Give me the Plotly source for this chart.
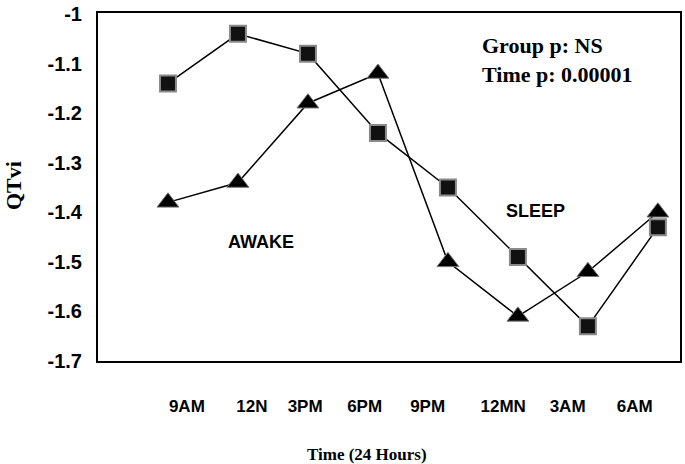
import plotly.graph_objects as go

# Data
times = ["9AM", "12N", "3PM", "6PM", "9PM", "12MN", "3AM", "6AM"]
x_idx = [0, 1, 2, 3, 4, 5, 6, 7]
tick_pos = [0.27, 1.2, 1.96, 2.81, 3.71, 4.79, 5.71, 6.67]
square_vals = [-1.14, -1.04, -1.08, -1.24, -1.35, -1.49, -1.63, -1.43]
triangle_vals = [-1.38, -1.34, -1.18, -1.12, -1.50, -1.61, -1.52, -1.40]
y_ticks = [-1, -1.1, -1.2, -1.3, -1.4, -1.5, -1.6, -1.7]
y_labels = ["-1", "-1.1", "-1.2", "-1.3", "-1.4", "-1.5", "-1.6", "-1.7"]

sans = "Liberation Sans, Arial, sans-serif"
serif = "Liberation Serif, Times New Roman, serif"

fig = go.Figure()
fig.add_trace(
    go.Scatter(
        x=x_idx,
        y=triangle_vals,
        mode="lines+markers",
        line=dict(color="black", width=1.5),
        marker=dict(symbol="triangle-up", size=19, color="black",
                    line=dict(color="#777777", width=1)),
        name="triangle",
    )
)
fig.add_trace(
    go.Scatter(
        x=x_idx,
        y=square_vals,
        mode="lines+markers",
        line=dict(color="black", width=1.5),
        marker=dict(symbol="square", size=16, color="#111111",
                    line=dict(color="#8a8a8a", width=2)),
        name="square",
    )
)

# Frame round the plot area
fig.add_shape(type="rect", xref="paper", yref="paper", x0=0, x1=1, y0=0, y1=1,
              line=dict(color="black", width=2), layer="above")

# Text inside the plot
fig.add_annotation(x=5.57, y=-1.093, xref="x", yref="y", showarrow=False,
                   text="<b>Group p: NS<br>Time p: 0.00001</b>", align="left",
                   font=dict(family=serif, size=22, color="black"))
fig.add_annotation(x=1.33, y=-1.459, xref="x", yref="y", showarrow=False,
                   text="<b>AWAKE</b>", font=dict(family=sans, size=18, color="black"))
fig.add_annotation(x=5.25, y=-1.397, xref="x", yref="y", showarrow=False,
                   text="<b>SLEEP</b>", font=dict(family=sans, size=18, color="black"))

# Axis titles
fig.add_annotation(x=0.4615, y=-0.265, xref="paper", yref="paper", showarrow=False,
                   xanchor="center", yanchor="middle",
                   text="<b>Time (24 Hours)</b>", font=dict(family=serif, size=17, color="black"))
fig.add_annotation(x=-0.142, y=0.503, xref="paper", yref="paper", showarrow=False, textangle=-90,
                   xanchor="center", yanchor="middle",
                   text="<b>QTvi</b>", font=dict(family=serif, size=22, color="black"))

fig.update_layout(
    width=685,
    height=464,
    margin=dict(l=97, r=4, t=12, b=102),
    paper_bgcolor="white",
    plot_bgcolor="white",
    showlegend=False,
    xaxis=dict(
        range=[-1.014, 7.33],
        tickvals=tick_pos,
        ticktext=[f"<b>{t}</b>" for t in times],
        tickfont=dict(family=sans, size=17, color="black"),
        ticks="",
        ticklabelstandoff=32,
        automargin=False,
        showgrid=False,
        zeroline=False,
        showline=False,
    ),
    yaxis=dict(
        range=[-1.702, -0.996],
        tickvals=y_ticks,
        ticktext=[f"<b>{t}</b>" for t in y_labels],
        tickfont=dict(family=sans, size=20, color="black"),
        ticks="",
        ticklabelstandoff=14,
        automargin=False,
        showgrid=False,
        zeroline=False,
        showline=False,
    ),
)

# drop the default 8px page margin so the figure sits at the window's corner
fig.write_html(
    "out.html",
    config={"displayModeBar": False},
    post_script="document.body.style.margin = '0';",
)
